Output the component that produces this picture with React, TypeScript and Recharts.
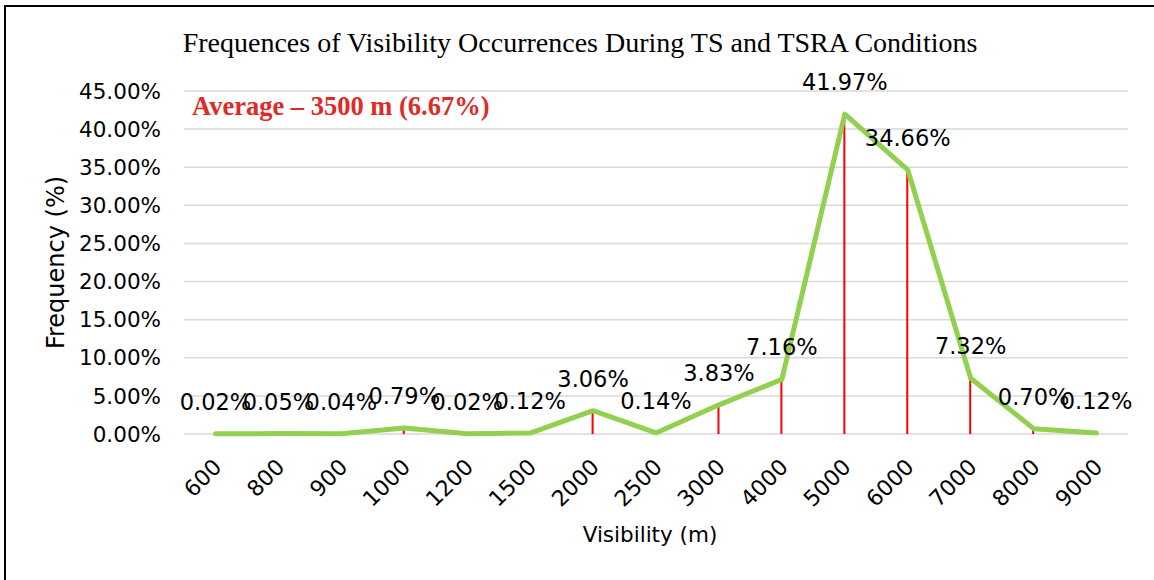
import React from 'react';
import { ComposedChart, Line, Bar, XAxis, YAxis, CartesianGrid, LabelList } from 'recharts';

const categories = ['600', '800', '900', '1000', '1200', '1500', '2000', '2500', '3000', '4000', '5000', '6000', '7000', '8000', '9000'];
const frequencies = [0.02, 0.05, 0.04, 0.79, 0.02, 0.12, 3.06, 0.14, 3.83, 7.16, 41.97, 34.66, 7.32, 0.7, 0.12];
const yTicks = [0, 5, 10, 15, 20, 25, 30, 35, 40, 45];
const titleText = 'Frequences of Visibility Occurrences During TS and TSRA Conditions';
const annotationText = 'Average \u2013 3500 m (6.67%)';
const xTitle = 'Visibility (m)';
const yTitle = 'Frequency (%)';

const data = categories.map((c, i) => ({ cat: c, value: frequencies[i] }));

const AXIS_FONT = '"DejaVu Sans", Verdana, sans-serif';
const SERIF = '"Liberation Serif", "Times New Roman", serif';

const XTick = (props: any) => {
  const { x, y, payload } = props;
  return (
    <g transform={`translate(${x + 2},${y + 21})`}>
      <text x={0} y={0} dy="0.35em" transform="rotate(-45)" textAnchor="end" fontSize={22} fontFamily={AXIS_FONT} fill="#000">
        {payload.value}
      </text>
    </g>
  );
};

const PointLabel = (props: any) => {
  const { x, y, value } = props;
  if (x == null || y == null) return null;
  return (
    <text x={x} y={y - 24} textAnchor="middle" fontSize={22.5} fontFamily={AXIS_FONT} fill="#000">
      {Number(value).toFixed(2)}%
    </text>
  );
};

export default function App() {
  return (
    <div style={{ position: 'absolute', left: 0, top: 0, width: 1154, height: 580, overflow: 'hidden', background: '#fff' }}>
      <div style={{ position: 'absolute', left: 4, top: 5, width: 1300, height: 800, borderTop: '2px solid #000', borderLeft: '2px solid #000' }} />
      <div style={{ position: 'absolute', left: 0, top: 0 }}>
        <ComposedChart width={1154} height={580} data={data} margin={{ top: 91, right: 26, bottom: 0, left: 0 }}>
          <CartesianGrid horizontal vertical={false} stroke="#d9d9d9" strokeWidth={1.5} />
          <XAxis
            dataKey="cat"
            height={146}
            axisLine={false}
            tickLine={false}
            interval={0}
            tick={<XTick />}
            label={{ value: xTitle, position: 'insideBottom', offset: 38, dx: -6, fontSize: 21.5, fontFamily: AXIS_FONT, fill: '#000' }}
          />
          <YAxis
            width={184}
            domain={[0, 45]}
            ticks={yTicks}
            interval={0}
            axisLine={false}
            tickLine={false}
            tickMargin={17}
            tickFormatter={(v: number) => `${v.toFixed(2)}%`}
            tick={{ fontSize: 21.5, fontFamily: AXIS_FONT, fill: '#000' }}
            label={{ value: yTitle, angle: -90, position: 'insideLeft', offset: 55, style: { textAnchor: 'middle' }, fontSize: 24, fontFamily: AXIS_FONT, fill: '#000' }}
          />
          <Bar dataKey="value" barSize={2} fill="#FF0000" isAnimationActive={false} />
          <Line type="linear" dataKey="value" stroke="#92D050" strokeWidth={5} dot={false} strokeLinejoin="round" strokeLinecap="round" isAnimationActive={false}>
            <LabelList dataKey="value" content={<PointLabel />} />
          </Line>
        </ComposedChart>
      </div>
      <svg width={1154} height={580} style={{ position: 'absolute', left: 0, top: 0, pointerEvents: 'none' }}>
        <text x={580} y={52} textAnchor="middle" fontSize={28} fontFamily={SERIF} fill="#000">{titleText}</text>
        <text x={192} y={115} fontSize={26.5} fontWeight="bold" fontFamily={SERIF} fill="#DF2A26">{annotationText}</text>
      </svg>
    </div>
  );
}
